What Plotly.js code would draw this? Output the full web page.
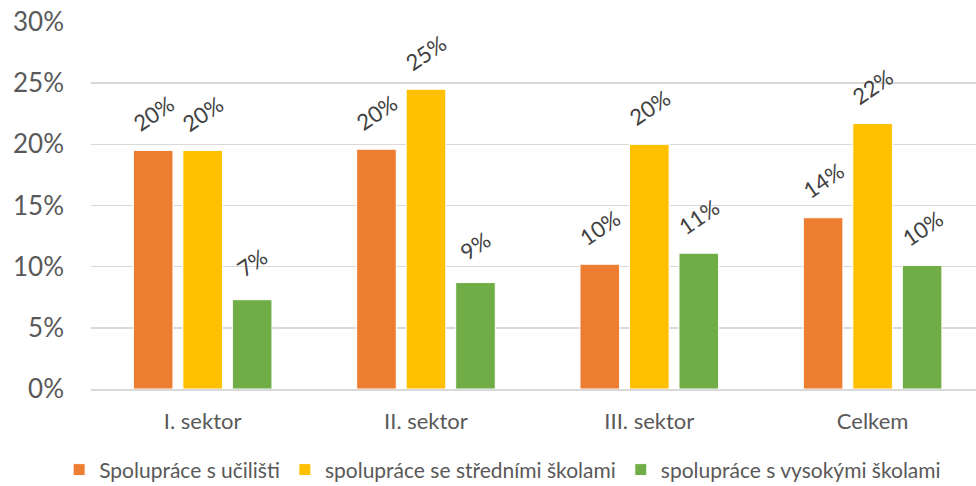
<!DOCTYPE html>
<html><head><meta charset="utf-8">
<script src="https://cdn.plot.ly/plotly-3.0.1.min.js"></script>
<style>html,body{margin:0;padding:0;background:#fff}#chart{width:976px;height:486px}</style>
</head><body><div id="chart"></div>
<script>
const categories = ["I. sektor", "II. sektor", "III. sektor", "Celkem"];
const seriesNames = ["Spolupráce s učilišti", "spolupráce se středními školami", "spolupráce s vysokými školami"];
const uciliste = [0.195, 0.196, 0.102, 0.140];
const stredni = [0.195, 0.245, 0.200, 0.217];
const vysoke = [0.073, 0.087, 0.111, 0.101];
const colors = ["#ED7D31", "#FFC000", "#70AD47"];
const FONT = "Lato, 'Open Sans', sans-serif";
const series = [uciliste, stredni, vysoke];
const traces = series.map((vals, i) => ({
  type: "bar", x: categories, y: vals, name: seriesNames[i],
  marker: {color: colors[i], line: {color: "#ffffff", width: 1}},
  hoverinfo: "skip"
}));
const annotations = [];
series.forEach((vals, i) => {
  vals.forEach((v, j) => {
    annotations.push({
      x: categories[j], y: v, xref: "x", yref: "y",
      xshift: (i - 1) * 49.5, yshift: 37,
      text: Math.round(v * 100) + "%", showarrow: false, textangle: -34,
      xanchor: "center", yanchor: "middle",
      font: {family: FONT, size: 22, color: "#404040"}
    });
  });
});
const layout = {
  width: 976, height: 486,
  margin: {l: 91, r: 0, t: 22, b: 97},
  paper_bgcolor: "#fff", plot_bgcolor: "#fff",
  barmode: "group", bargap: 0.335, bargroupgap: 0.2,
  font: {family: FONT, color: "#595959"},
  annotations: annotations,
  xaxis: {range: [-0.5, 3.463], showgrid: false, showline: true, linecolor: "#D9D9D9", linewidth: 1.5,
          ticks: "", tickfont: {size: 22, color: "#595959"}, ticklabelstandoff: 12, fixedrange: true},
  yaxis: {range: [0, 0.30], dtick: 0.05, tickformat: ".0%", gridcolor: "#D9D9D9", gridwidth: 1.5,
          zeroline: false, showline: false, ticks: "", tickfont: {size: 26, color: "#595959"},
          ticklabelstandoff: 26, fixedrange: true},
  showlegend: true,
  legend: {orientation: "h", xref: "container", yref: "container", x: 0.515, xanchor: "center",
           y: 0.033, yanchor: "middle", font: {size: 21, color: "#595959"},
           itemwidth: 30, tracegroupgap: 0, itemclick: false}
};
Plotly.newPlot("chart", traces, layout, {displayModeBar: false, staticPlot: true});
</script></body></html>
